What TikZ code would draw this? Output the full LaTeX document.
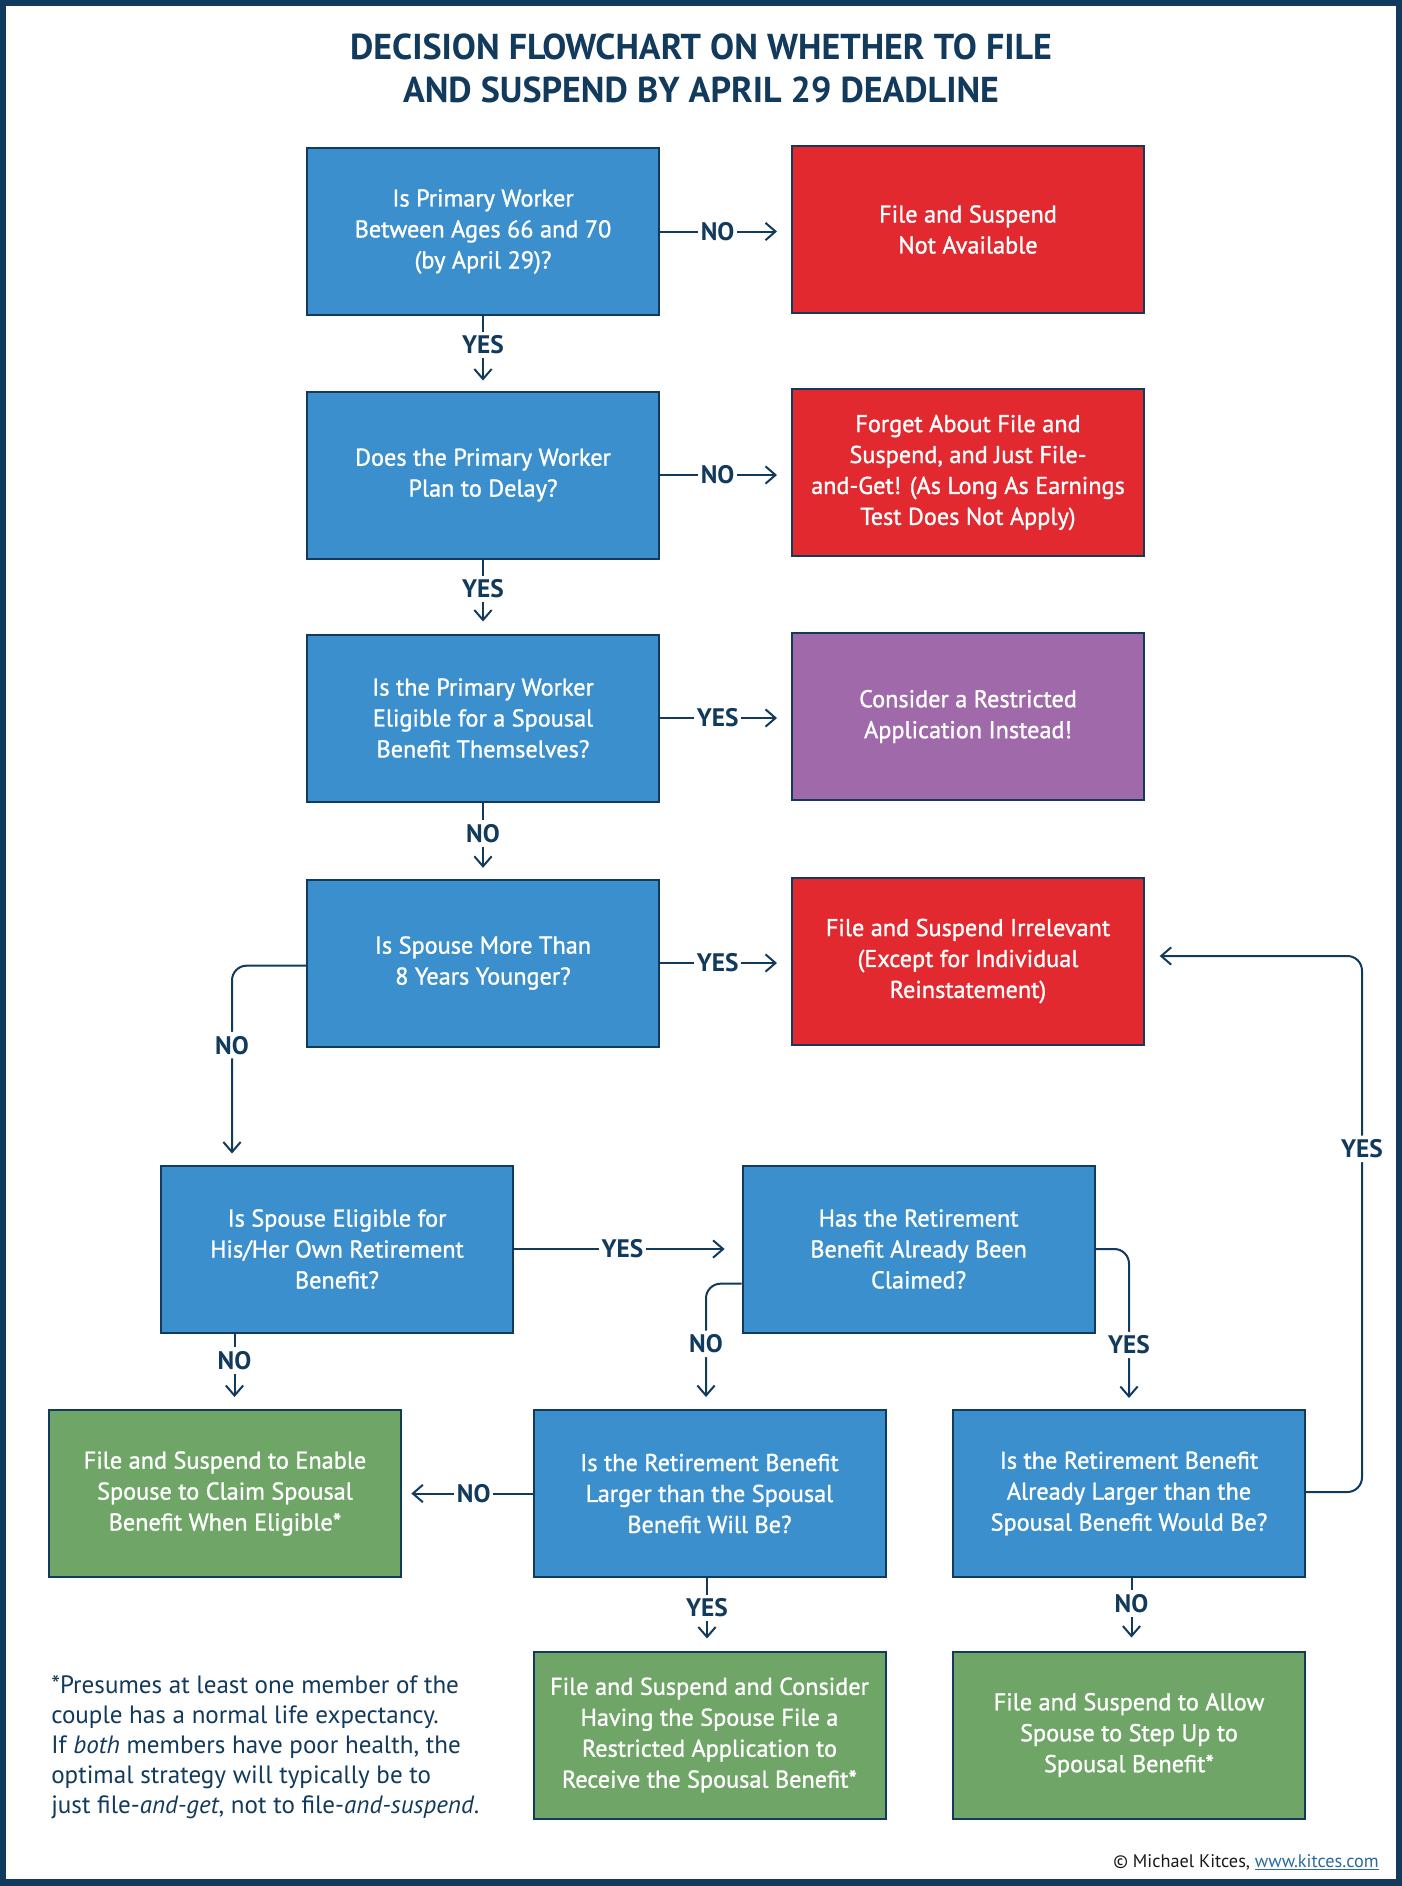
\documentclass[tikz,border=0pt]{standalone}
\usepackage{fontspec}
\setmainfont{PT Sans}
\newfontfamily\boxfont{PT Sans}[FakeBold=1.2]
\usetikzlibrary{arrows.meta,calc}
\definecolor{navy}{HTML}{123A5C}
\definecolor{qblue}{HTML}{3C8FCD}
\definecolor{ared}{HTML}{E1292F}
\definecolor{apurple}{HTML}{9F69AA}
\definecolor{agreen}{HTML}{6FA567}
\definecolor{linkblue}{HTML}{2C6AA0}
\begin{document}
\begin{tikzpicture}[x=0.75pt,y=-0.75pt,
  box/.style={draw=navy, line width=1.5pt, minimum width=264pt, minimum height=125.25pt,
    inner sep=0pt, align=center, text=white, font=\boxfont\fontsize{18.2}{23.2}\selectfont},
  qbox/.style={box, fill=qblue},
  rbox/.style={box, fill=ared},
  pbox/.style={box, fill=apurple},
  gbox/.style={box, fill=agreen},
  conn/.style={draw=navy, line width=1.5pt, -{Straight Barb[length=7.5pt,width=13pt]}},
  lbl/.style={fill=white, text=navy, inner xsep=2pt, inner ysep=3pt, font=\bfseries\fontsize{19}{22}\selectfont}
]
\useasboundingbox (0,0) rectangle (1402,1886);
\fill[navy] (0,0) rectangle (1402,1886);
\fill[white] (6,6) rectangle (1396,1879);

\node[text=navy, align=center, font=\bfseries\fontsize{27}{32}\selectfont] (title) at (701,68.5)
  {DECISION FLOWCHART ON WHETHER TO FILE\\AND SUSPEND BY APRIL 29 DEADLINE};

\node[qbox] (q1) at (483,231.5) {Is Primary Worker\\Between Ages 66 and 70\\(by April 29)?};
\node[rbox] (r1) at (968,229.5) {File and Suspend\\Not Available};
\node[qbox] (q2) at (483,475) {Does the Primary Worker\\Plan to Delay?};
\node[rbox] (r2) at (968,472.5) {Forget About File and\\Suspend, and Just File-\\and-Get! (As Long As Earnings\\Test Does Not Apply)};
\node[qbox] (q3) at (483,718) {Is the Primary Worker\\Eligible for a Spousal\\Benefit Themselves?};
\node[pbox] (r3) at (968,716.5) {Consider a Restricted\\Application Instead!};
\node[qbox] (q4) at (483,963) {Is Spouse More Than\\8 Years Younger?};
\node[rbox] (r4) at (968,961) {File and Suspend Irrelevant\\(Except for Individual\\Reinstatement)};
\node[qbox] (q5) at (337,1249) {Is Spouse Eligible for\\His/Her Own Retirement\\Benefit?};
\node[qbox] (q6) at (918.6,1249) {Has the Retirement\\Benefit Already Been\\Claimed?};
\node[gbox] (g1) at (225,1493.5) {File and Suspend to Enable\\Spouse to Claim Spousal\\Benefit When Eligible*};
\node[qbox] (q7) at (709.5,1493.5) {Is the Retirement Benefit\\Larger than the Spousal\\Benefit Will Be?};
\node[qbox] (q8) at (1129,1493.5) {Is the Retirement Benefit\\Already Larger than the\\Spousal Benefit Would Be?};
\node[gbox] (g2) at (709.5,1735) {File and Suspend and Consider\\Having the Spouse File a\\Restricted Application to\\Receive the Spousal Benefit*};
\node[gbox] (g3) at (1129,1735) {File and Suspend to Allow\\Spouse to Step Up to\\Spousal Benefit*};

% horizontal connectors to the right column
\draw[conn, shorten >=10.5pt] (q1.east) -- (r1.west |- q1.east) node[lbl, pos=0.44] {NO};
\draw[conn, shorten >=10.5pt] (q2.east) -- (r2.west |- q2.east) node[lbl, pos=0.44] {NO};
\draw[conn, shorten >=10.5pt] (q3.east) -- (r3.west |- q3.east) node[lbl, pos=0.44] {YES};
\draw[conn, shorten >=10.5pt] (q4.east) -- (r4.west |- q4.east) node[lbl, pos=0.44] {YES};

% vertical connectors in the left column
\draw[conn, shorten >=7.5pt] (q1.south) -- (q2.north) node[lbl, pos=0.39] {YES};
\draw[conn, shorten >=9pt] (q2.south) -- (q3.north) node[lbl, pos=0.40] {YES};
\draw[conn, shorten >=8pt] (q3.south) -- (q4.north) node[lbl, pos=0.41] {NO};

% q4 -> q5
\coordinate (c5) at ($(q5.north west)+(72,0)$);
\draw[conn, rounded corners=11pt, shorten >=8.25pt] ([yshift=-2pt]q4.west) -| (c5) node[lbl, pos=0.70] {NO};

% q5 -> q6
\draw[conn, shorten >=12.75pt] (q5.east) -- (q6.west |- q5.east) node[lbl, pos=0.477] {YES};

% q6 -> q7 / q8
\coordinate (c7) at ($(q7.north)+(-3.5,0)$);
\draw[conn, rounded corners=11pt, shorten >=9pt] ([yshift=-26pt]q6.west) -| (c7) node[lbl, pos=0.74] {NO};
\draw[conn, rounded corners=11pt, shorten >=8.25pt] (q6.east) -| (q8.north) node[lbl, pos=0.80] {YES};

% q5 -> g1
\coordinate (c1) at ($(g1.north)+(9.5,0)$);
\draw[conn, shorten >=9pt] (c1 |- q5.south) -- (c1) node[lbl, pos=0.36] {NO};

% q7 -> g1, g2
\draw[conn, shorten >=7pt] (q7.west) -- (g1.east |- q7.west) node[lbl, pos=0.45] {NO};
\coordinate (c2) at ($(g2.north)+(-2.5,0)$);
\draw[conn, shorten >=9pt] (c2 |- q7.south) -- (c2) node[lbl, pos=0.41] {YES};

% q8 -> g3, r4
\coordinate (c3) at ($(g3.north)+(2.5,0)$);
\draw[conn, shorten >=9.75pt] (c3 |- q8.south) -- (c3) node[lbl, pos=0.35] {NO};
\coordinate (c8) at (1362,1492);
\draw[conn, rounded corners=11pt, shorten >=11pt] (q8.east |- c8) -- (c8) |- ([yshift=3.75pt]r4.east) node[lbl, pos=0.32] {YES};

% footnote
\node[anchor=west, align=left, inner sep=0pt, text=navy, font=\fontsize{18.8}{22.6}\selectfont] (note) at (51,1747)
  {*Presumes at least one member of the\\couple has a normal life expectancy.\\If \textit{both} members have poor health, the\\optimal strategy will typically be to\\just file-\textit{and-get}, not to file-\textit{and-suspend}.};

\node[anchor=base east, inner sep=0pt, text=black!90, font=\fontsize{13.7}{16}\selectfont] (copy) at (1379,1867)
  {\textcopyright{} Michael Kitces, \textcolor{linkblue}{\underline{www.kitces.com}}};
\end{tikzpicture}
\end{document}
